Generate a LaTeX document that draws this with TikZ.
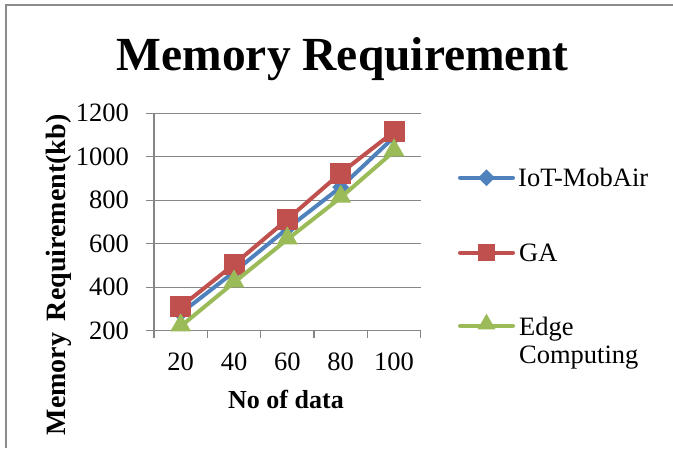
\documentclass[tikz,border=0pt]{standalone}
\usepackage{fontspec}
\setmainfont{Liberation Serif}
\usetikzlibrary{shapes.geometric}
\definecolor{sblue}{HTML}{4F81BD}
\definecolor{sred}{HTML}{C0504D}
\definecolor{sgreen}{HTML}{9BBB59}
\definecolor{gridgray}{HTML}{868686}
\definecolor{framegray}{HTML}{8C8C8C}
\begin{document}
\begin{tikzpicture}[x=1pt,y=-1pt,
  gridline/.style={draw=gridgray,line width=1.2pt},
  serline/.style={line width=4pt,line join=round,line cap=round},
  dmark/.style={diamond,fill=sblue,inner sep=0pt,minimum width=17pt,minimum height=17pt},
  smark/.style={rectangle,fill=sred,inner sep=0pt,minimum size=21pt},
  smarkleg/.style={rectangle,fill=sred,inner sep=0pt,minimum size=17pt},
  tmark/.style={regular polygon,regular polygon sides=3,fill=sgreen,inner sep=0pt,minimum size=24pt},
  tmarkleg/.style={regular polygon,regular polygon sides=3,fill=sgreen,inner sep=0pt,minimum size=21pt},
  ticklab/.style={font=\fontsize{26.5}{29}\selectfont},
  leglab/.style={font=\fontsize{26.5}{29}\selectfont,anchor=base west,inner sep=0pt},
  axlab/.style={font=\fontsize{26}{30}\selectfont\bfseries,inner sep=0pt}]
\useasboundingbox (0,0) rectangle (673,448);
% frame
\draw[framegray,line width=2pt] (6,448) -- (6,5) -- (673,5);
% title
\node[font=\fontsize{47.5}{52}\selectfont\bfseries,anchor=base,inner sep=0pt] (title) at (342.5,70) {Memory Requirement};
% grid lines and y ticks
\foreach \v in {200,400,...,1200}{
  \draw[gridline] (146,{330.7-(\v-200)*0.2175}) -- (420.7,{330.7-(\v-200)*0.2175});
  \node[ticklab,anchor=east,inner sep=0pt] (yl\v) at (129,{330.7-(\v-200)*0.2175}) {\v};
}
% axes
\draw[gridline] (154,113.3) -- (154,330.7);
\foreach \t in {154,207.3,260.7,314,367.3,420.7}{
  \draw[gridline] (\t,330.7) -- (\t,338);
}
% x tick labels
\foreach \v [count=\i] in {20,40,60,80,100}{
  \node[ticklab,anchor=base,inner sep=0pt] (xl\i) at ({180.7+(\i-1)*53.33},370.7) {\v};
}
% data coordinates
\foreach \v [count=\i] in {280,470,670,860,1090}{
  \coordinate (b\i) at ({180.7+(\i-1)*53.33},{330.7-(\v-200)*0.2175});
}
\foreach \v [count=\i] in {310,505,712,925,1115}{
  \coordinate (r\i) at ({180.7+(\i-1)*53.33},{330.7-(\v-200)*0.2175});
}
\foreach \v [count=\i] in {220,422,620,812,1025}{
  \coordinate (g\i) at ({180.7+(\i-1)*53.33},{330.7-(\v-200)*0.2175});
}
% series
\draw[serline,sblue] (b1) -- (b2) -- (b3) -- (b4) -- (b5);
\foreach \i in {1,...,5}{\node[dmark] (bm\i) at (b\i) {};}
\draw[serline,sred] (r1) -- (r2) -- (r3) -- (r4) -- (r5);
\foreach \i in {1,...,5}{\node[smark] (rm\i) at (r\i) {};}
\draw[serline,sgreen] (g1) -- (g2) -- (g3) -- (g4) -- (g5);
\foreach \i in {1,...,5}{\node[tmark,yshift=1pt] (gm\i) at (g\i) {};}
% axis labels
\node[axlab,anchor=base] (xlab) at (286,408) {No of data};
\node[axlab,font=\fontsize{28}{32}\selectfont\bfseries,anchor=base,rotate=90] (ylab) at (65,275) {Memory\, Requirement(kb)};
% legend
\coordinate (l1a) at (460,177.7); \coordinate (l1b) at (513,177.7);
\coordinate (l2a) at (460,252.7); \coordinate (l2b) at (513,252.7);
\coordinate (l3a) at (460,325.7); \coordinate (l3b) at (513,325.7);
\draw[serline,sblue] (l1a) -- (l1b);
\node[dmark] (lm1) at (486.5,177.7) {};
\draw[serline,sred] (l2a) -- (l2b);
\node[smarkleg] (lm2) at (486.5,252.7) {};
\draw[serline,sgreen] (l3a) -- (l3b);
\node[tmarkleg,yshift=1.5pt] (lm3) at (486.5,325.7) {};
\node[leglab] (lt1) at (518,186) {IoT-MobAir};
\node[leglab] (lt2) at (519,261) {GA};
\node[leglab] (lt3) at (519,335) {Edge};
\node[leglab] (lt4) at (519,363) {Computing};
\end{tikzpicture}
\end{document}
